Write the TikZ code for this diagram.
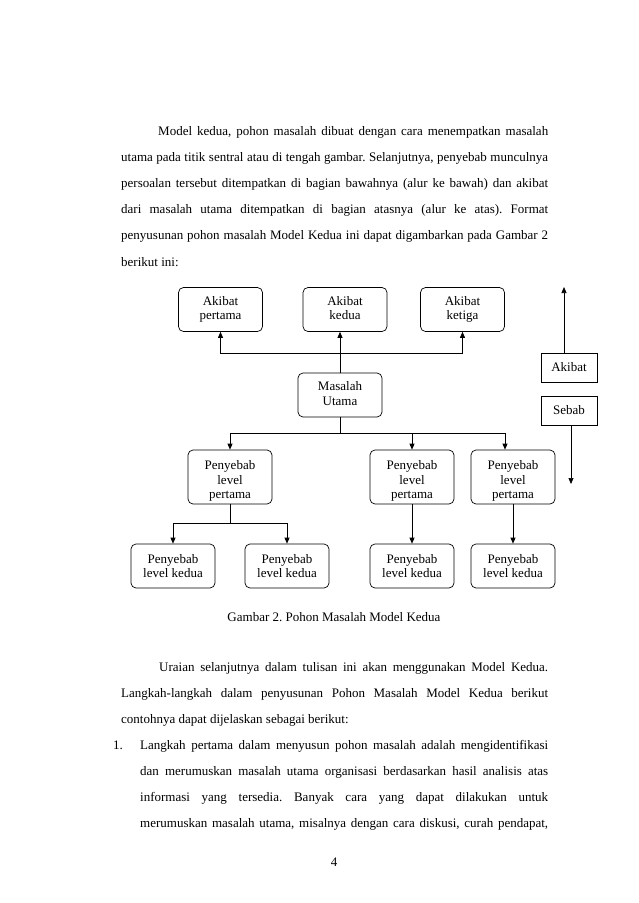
\documentclass[tikz,border=0pt]{standalone}
\usepackage{fontspec}
\setmainfont{Liberation Serif}
\usetikzlibrary{arrows.meta}
\frenchspacing
\begin{document}
\begin{tikzpicture}[x=1pt,y=-1pt,
  txt/.style={anchor=base west,inner sep=0pt,font=\fontsize{13}{15}\selectfont},
  ctxt/.style={anchor=base,inner sep=0pt,font=\fontsize{13}{15}\selectfont},
  rbox/.style={draw,rounded corners=5pt,line width=0.7pt,align=center,inner sep=0pt,
    minimum width=84pt,font=\fontsize{13}{14.5}\selectfont},
  sbox/.style={draw,line width=0.7pt,inner sep=0pt,minimum width=56pt,minimum height=29pt,
    font=\fontsize{13}{15}\selectfont},
  conn/.style={line width=0.7pt},
  arr/.style={conn,-{Triangle[length=6pt,width=5pt]}}]
\fill[white] (0,0) rectangle (638,903);
\useasboundingbox (0,0) rectangle (638,903);

% paragraph 1
\node[txt] (t1) at (158,135) {\makebox[390pt][s]{Model kedua, pohon masalah dibuat dengan cara menempatkan masalah}};
\node[txt] (t2) at (121,161.2) {\makebox[427pt][s]{utama pada titik sentral atau di tengah gambar. Selanjutnya, penyebab munculnya}};
\node[txt] (t3) at (121,187.4) {\makebox[427pt][s]{persoalan tersebut ditempatkan di bagian bawahnya (alur ke bawah) dan akibat}};
\node[txt] (t4) at (121,213.6) {\makebox[427pt][s]{dari masalah utama ditempatkan di bagian atasnya (alur ke atas). Format}};
\node[txt] (t5) at (121,239.8) {\makebox[427pt][s]{penyusunan pohon masalah Model Kedua ini dapat digambarkan pada Gambar 2}};
\node[txt] (t6) at (121,266) {berikut ini:};

% diagram boxes
\node[rbox,minimum height=44pt] (a1) at (220.5,309.5) {Akibat\\pertama};
\node[rbox,minimum height=44pt] (a2) at (345,309.5) {Akibat\\kedua\vphantom{g}};
\node[rbox,minimum height=44pt] (a3) at (462.5,309.5) {Akibat\\ketiga};
\node[rbox,minimum height=44pt] (m) at (340,395) {Masalah\\Utama\vphantom{g}};
\node[rbox,minimum height=54pt] (p1) at (230,477) {\rule{0pt}{17pt}Penyebab\\level\\pertama};
\node[rbox,minimum height=54pt] (p2) at (412,477) {\rule{0pt}{17pt}Penyebab\\level\\pertama};
\node[rbox,minimum height=54pt] (p3) at (513,477) {\rule{0pt}{17pt}Penyebab\\level\\pertama};
\node[rbox,minimum height=44pt] (l1) at (173,566) {Penyebab\\level kedua};
\node[rbox,minimum height=44pt] (l2) at (287,566) {Penyebab\\level kedua};
\node[rbox,minimum height=44pt] (l3) at (412,566) {Penyebab\\level kedua};
\node[rbox,minimum height=44pt] (l4) at (513,566) {Penyebab\\level kedua};
\node[sbox] (ak) at (569,367.5) {Akibat};
\node[sbox] (sb) at (569,410.5) {Sebab};

% connectors up (akibat)
\draw[arr] (m.north) -- (m.north |- a2.south);
\coordinate (b0) at (340,353);
\draw[arr] (b0) -| (a1.south);
\draw[arr] (b0) -| (a3.south);

% connectors down (penyebab)
\draw[conn] (m.south) -- ++(0,16) coordinate (c0);
\draw[arr] (c0) -| (p1.north);
\draw[arr] (c0) -| ([xshift=-8pt]p3.north);
\draw[arr] (c0 -| p2.north) -- (p2.north);
\draw[conn] (p1.south) -- ++(0,19) coordinate (e0);
\draw[arr] (e0) -| (l1.north);
\draw[arr] (e0) -| (l2.north);
\draw[arr] (p2.south) -- (l3.north);
\draw[arr] (p3.south) -- (l4.north);

% legend arrows
\coordinate (upend) at (564,287);
\draw[arr] (ak.north -| upend) -- (upend);
\coordinate (dnend) at (571,484);
\draw[arr] (sb.south -| dnend) -- (dnend);

% caption
\node[ctxt] (cap) at (334,621) {Gambar 2. Pohon Masalah Model Kedua};

% paragraph 2
\node[txt] (u1) at (159,671) {\makebox[389pt][s]{Uraian selanjutnya dalam tulisan ini akan menggunakan Model Kedua.}};
\node[txt] (u2) at (121,697) {\makebox[427pt][s]{Langkah-langkah dalam penyusunan Pohon Masalah Model Kedua berikut}};
\node[txt] (u3) at (121,723) {contohnya dapat dijelaskan sebagai berikut:};
\node[txt] (n1) at (113,749) {1.};
\node[txt] (v1) at (140,749) {\makebox[408pt][s]{Langkah pertama dalam menyusun pohon masalah adalah mengidentifikasi}};
\node[txt] (v2) at (140,775) {\makebox[408pt][s]{dan merumuskan masalah utama organisasi berdasarkan hasil analisis atas}};
\node[txt] (v3) at (140,801) {\makebox[408pt][s]{informasi yang tersedia. Banyak cara yang dapat dilakukan untuk}};
\node[txt] (v4) at (140,827) {\makebox[408pt][s]{merumuskan masalah utama, misalnya dengan cara diskusi, curah pendapat,}};

% page number
\node[ctxt] (pg) at (334,866) {4};
\end{tikzpicture}
\end{document}
